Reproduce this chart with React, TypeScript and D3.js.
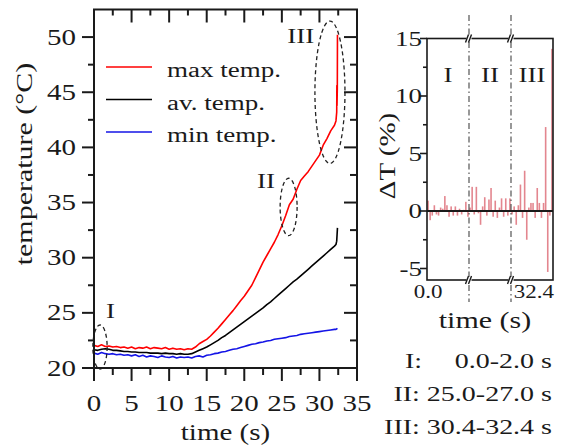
import React from "react";
import * as d3 from "d3";

// ---------- data ----------
const SAMPLE_STEP = 0.5; // s, sampling of the typed curves (t = 0 … 32 s)
const maxTemp = [22.05, 21.95, 22.1, 21.95, 22.0, 21.9, 21.95, 21.85, 21.9, 21.8, 21.9, 21.75, 21.85, 21.8, 21.9, 21.75, 21.85, 21.8, 21.75, 21.85, 21.7, 21.8, 21.7, 21.75, 21.65, 21.75, 21.7,
  21.9, 22.2, 22.4, 22.6, 22.9, 23.25, 23.6, 24.0, 24.4, 24.8,
  25.2, 25.65, 26.1, 26.5, 27.0, 27.5, 28.2, 28.9, 29.6, 30.2,
  30.8, 31.4, 32.1, 32.9, 33.8, 34.8, 35.3, 36.2, 37.0, 37.4,
  37.8, 38.3, 38.8, 39.3, 40.2, 40.8, 41.5, 42.0];
const avTemp = [21.65, 21.6, 21.7, 21.75, 21.7, 21.6, 21.6, 21.55, 21.5, 21.5, 21.45, 21.45, 21.4, 21.4, 21.4, 21.35, 21.35, 21.35, 21.3, 21.35, 21.3, 21.3, 21.25, 21.3, 21.25, 21.25, 21.3,
  21.45, 21.6, 21.75, 21.9, 22.1, 22.3, 22.5, 22.75, 22.95, 23.2,
  23.45, 23.7, 23.95, 24.2, 24.45, 24.7, 24.95, 25.2, 25.45, 25.75,
  26.0, 26.3, 26.6, 26.9, 27.2, 27.5, 27.8, 28.05, 28.35, 28.65,
  28.95, 29.25, 29.55, 29.85, 30.15, 30.45, 30.75, 31.05];
const minTemp = [21.35, 21.25, 21.4, 21.3, 21.25, 21.3, 21.2, 21.25, 21.15, 21.2, 21.1, 21.2, 21.05, 21.15, 21.0, 21.1, 21.05, 20.95, 21.1, 21.0, 20.95, 21.05, 20.9, 21.0, 20.95, 21.0, 20.9,
  21.05, 21.1, 21.0, 21.15, 21.2, 21.3, 21.35, 21.45, 21.5, 21.6,
  21.7, 21.75, 21.85, 21.95, 22.05, 22.15, 22.2, 22.3, 22.35, 22.45,
  22.5, 22.6, 22.65, 22.7, 22.75, 22.85, 22.9, 22.95, 23.05, 23.1,
  23.15, 23.2, 23.25, 23.3, 23.35, 23.4, 23.45, 23.5];
// final samples (t, T) at the end of the record
const maxTailT = [32.2, 32.3, 32.32, 32.34, 32.38, 32.4];
const maxTailV = [42.4, 43.2, 45.6, 43.8, 45.3, 50.2];
const avTailT = [32.2, 32.3, 32.4];
const avTailV = [31.2, 31.5, 32.7];
const minTailT = [32.2, 32.4];
const minTailV = [23.5, 23.6];

const seriesNames = ["max temp.", "av. temp.", "min temp."];
const seriesColors = ["#ff0000", "#000000", "#1414e6"];

// annotation ellipses (data units): centre t, centre T, half-width s, half-height °C
const ellLabels = ["I", "II", "III"];
const ellT = [0.8, 25.9, 31.4];
const ellV = [21.9, 34.6, 45.0];
const ellRt = [0.95, 1.13, 2.0];
const ellRv = [2.0, 2.6, 6.45];
const ellLabelT = [2.2, 22.9, 27.5];
const ellLabelV = [24.5, 36.3, 49.5];

// ΔT bars: three 2-s windows, one bar every 0.1 s
const windowNames = ["I", "II", "III"];
const windowRanges = ["0.0-2.0 s", "25.0-27.0 s", "30.4-32.4 s"];
const BAR_STEP = 0.1;
const WINDOW_LEN = 2.0;
const dT_I = [0.9, -0.8, -0.4, 0.5, -0.3, -0.4, 0.3, 0.2, 1.3, 0.5, -0.5, 0.4, -0.4, 0.4, -0.4, 0.2, -0.3, 0.1, 0.8, -0.5];
const dT_II = [0.3, 2.1, -0.3, 2.1, -0.2, -1.2, 0.4, 1.2, -0.4, 1.0, 2.0, -0.5, 0.9, -0.6, 0.3, 1.1, -0.5, 1.1, -0.4, 1.1];
const dT_III = [-0.3, 0.4, -1.2, 0.5, 2.3, -0.6, 3.5, -2.5, 0.3, 0.7, 0.7, -0.6, 2.0, 0.7, -0.6, 0.7, 7.3, -5.3, -0.4, 14.1];
const dTWindows = [dT_I, dT_II, dT_III];

const leftXTicks = [0, 5, 10, 15, 20, 25, 30, 35];
const leftYTicks = [20, 25, 30, 35, 40, 45, 50];
const rightYTicks = [15, 10, 5, 0, -5];

// ---------- layout ----------
const W = 565, H = 447;
const FONT = "'Liberation Serif', 'Times New Roman', serif";
const VS = 0.78; // vertical squeeze of the lettering
const INK = "#1a1a1a";

const L = { x0: 94, x1: 357, y0: 9.5, y1: 368 };
const R = { x0: 427, x1: 553, y0: 38.5, y1: 280 };

function Txt({ x, y, size, anchor = "middle", rot = false, children }: any) {
  const tr = rot
    ? `translate(${x},${y}) scale(${VS},1) rotate(-90)`
    : `translate(${x},${y}) scale(1,${VS})`;
  return (
    <text transform={tr} fontSize={size} textAnchor={anchor} fontFamily={FONT} fill={INK} style={{ whiteSpace: "pre" }}>
      {children}
    </text>
  );
}

export default function App() {
  const x = d3.scaleLinear().domain([0, 35]).range([L.x0, L.x1]);
  const y = d3.scaleLinear().domain([20, 52.5]).range([L.y1, L.y0]);
  const xr = d3.scaleLinear().domain([0, 3 * WINDOW_LEN]).range([R.x0, R.x1]);
  const yr = d3.scaleLinear().domain([-6, 15]).range([R.y1, R.y0]);

  const mk = (vals: number[], tt: number[], tv: number[]) => {
    const pts: [number, number][] = vals.map((v, i) => [i * SAMPLE_STEP, v]);
    tt.forEach((t, i) => pts.push([t, tv[i]]));
    return pts;
  };
  const series = [
    mk(maxTemp, maxTailT, maxTailV),
    mk(avTemp, avTailT, avTailV),
    mk(minTemp, minTailT, minTailV),
  ];
  const line = d3.line<[number, number]>().x((d) => x(d[0])).y((d) => y(d[1]));

  const xMinor = d3.range(2.5, 35, 5);
  const yMinor = d3.range(22.5, 52.5, 5);
  const yrMinor = [12.5, 7.5, 2.5, -2.5];

  const bars: { t: number; v: number }[] = [];
  dTWindows.forEach((arr, w) =>
    arr.forEach((v, i) => bars.push({ t: w * WINDOW_LEN + (i + 0.5) * BAR_STEP, v }))
  );

  const breaks = [WINDOW_LEN, 2 * WINDOW_LEN];

  return (
    <svg width={W} height={H} style={{ position: "absolute", left: 0, top: 0, background: "#fff" }}>
      <rect width={W} height={H} fill="#fff" />
      <defs>
        <clipPath id="clipL">
          <rect x={L.x0} y={L.y0} width={L.x1 - L.x0} height={L.y1 - L.y0} />
        </clipPath>
      </defs>
      {/* ---------- left panel ---------- */}
      <g clipPath="url(#clipL)">
        {series.map((s, i) => (
          <path key={i} d={line(s) || ""} fill="none" stroke={seriesColors[i]} strokeWidth={1.6} strokeLinejoin="round" />
        ))}
      </g>
      {/* ellipses */}
      {ellLabels.map((lab, i) => (
        <g key={lab}>
          <ellipse cx={x(ellT[i])} cy={y(ellV[i])} rx={x(ellRt[i]) - x(0)} ry={y(0) - y(ellRv[i])}
            fill="none" stroke="#222" strokeWidth={1.3} strokeDasharray="4,3" />
          <Txt x={x(ellLabelT[i])} y={y(ellLabelV[i])} size={27}>{lab}</Txt>
        </g>
      ))}
      {/* frame */}
      <rect x={L.x0} y={L.y0} width={L.x1 - L.x0} height={L.y1 - L.y0} fill="none" stroke={INK} strokeWidth={2} />
      {leftXTicks.map((t) => (
        <g key={"xt" + t} stroke={INK} strokeWidth={2}>
          <line x1={x(t)} x2={x(t)} y1={L.y1} y2={L.y1 + 13} />
          <line x1={x(t)} x2={x(t)} y1={L.y0} y2={L.y0 + 13} />
        </g>
      ))}
      {xMinor.map((t) => (
        <g key={"xm" + t} stroke={INK} strokeWidth={2}>
          <line x1={x(t)} x2={x(t)} y1={L.y1} y2={L.y1 + 7} />
          <line x1={x(t)} x2={x(t)} y1={L.y0} y2={L.y0 + 6} />
        </g>
      ))}
      {leftYTicks.map((v) => (
        <g key={"yt" + v} stroke={INK} strokeWidth={2}>
          <line x1={L.x0 - 12} x2={L.x0} y1={y(v)} y2={y(v)} />
          <line x1={L.x1 - 13} x2={L.x1} y1={y(v)} y2={y(v)} />
        </g>
      ))}
      {yMinor.map((v) => (
        <g key={"ym" + v} stroke={INK} strokeWidth={2}>
          <line x1={L.x0 - 6} x2={L.x0} y1={y(v)} y2={y(v)} />
          <line x1={L.x1 - 7} x2={L.x1} y1={y(v)} y2={y(v)} />
        </g>
      ))}
      {leftXTicks.map((t) => (
        <Txt key={"xl" + t} x={x(t)} y={411} size={29}>{t}</Txt>
      ))}
      {leftYTicks.map((v) => (
        <Txt key={"yl" + v} x={76} y={y(v) + 7.5} size={29} anchor="end">{v}</Txt>
      ))}
      <Txt x={(L.x0 + L.x1) / 2} y={440} size={29}>time (s)</Txt>
      <Txt x={32} y={164} size={30} rot>temperature (°C)</Txt>
      {/* legend */}
      {seriesNames.map((n, i) => (
        <g key={n}>
          <line x1={106} x2={152} y1={67 + i * 32.5} y2={67 + i * 32.5} stroke={seriesColors[i]} strokeWidth={1.6} />
          <Txt x={167} y={77 + i * 32.5} size={27} anchor="start">{n}</Txt>
        </g>
      ))}

      {/* ---------- right panel ---------- */}
      {bars.map((b, i) => (
        <rect key={i} x={xr(b.t) - 0.8} width={1.6} y={Math.min(yr(b.v), yr(0))} height={Math.abs(yr(b.v) - yr(0))}
          fill="#cc2233" fillOpacity={0.55} />
      ))}
      <line x1={R.x0} x2={R.x1} y1={yr(0)} y2={yr(0)} stroke={INK} strokeWidth={1.8} />
      <rect x={R.x0} y={R.y0} width={R.x1 - R.x0} height={R.y1 - R.y0} fill="none" stroke={INK} strokeWidth={1.6} />
      {breaks.map((b) => (
        <g key={"br" + b}>
          <line x1={xr(b)} x2={xr(b)} y1={15} y2={302} stroke="#444" strokeWidth={1.1} strokeDasharray="6,3,1.5,3" />
          {[R.y0, R.y1].map((yy) => (
            <g key={yy} stroke={INK} strokeWidth={1.4}>
              <rect x={xr(b) - 2.5} y={yy - 3} width={5} height={6} fill="#fff" stroke="none" />
              <line x1={xr(b) - 3.5} y1={yy + 4} x2={xr(b) - 0.5} y2={yy - 4} />
              <line x1={xr(b) - 0.5} y1={yy + 4} x2={xr(b) + 2.5} y2={yy - 4} />
            </g>
          ))}
        </g>
      ))}
      {rightYTicks.map((v) => (
        <g key={"ryt" + v}>
          <line x1={R.x0 - 7} x2={R.x0} y1={yr(v)} y2={yr(v)} stroke={INK} strokeWidth={1.6} />
          <Txt x={422} y={yr(v) + 7} size={27} anchor="end">{v}</Txt>
        </g>
      ))}
      {yrMinor.map((v) => (
        <line key={"rym" + v} x1={R.x0 - 4} x2={R.x0} y1={yr(v)} y2={yr(v)} stroke={INK} strokeWidth={1.6} />
      ))}
      {windowNames.map((n, w) => (
        <Txt key={"wn" + n} x={xr(w * WINDOW_LEN + WINDOW_LEN / 2)} y={82} size={27}>{n}</Txt>
      ))}
      <Txt x={R.x0 + 1} y={298} size={23}>0.0</Txt>
      <Txt x={R.x1 + 1} y={298} size={23} anchor="end">32.4</Txt>
      <Txt x={485} y={328} size={30}>time (s)</Txt>
      <Txt x={395} y={156} size={29} rot>ΔT (%)</Txt>
      {/* window legend */}
      <Txt x={405} y={368} size={28} anchor="start">{windowNames[0] + ":"}</Txt>
      <Txt x={552} y={368} size={28} anchor="end">{windowRanges[0]}</Txt>
      {windowNames.slice(1).map((n, k) => (
        <Txt key={"wl" + n} x={552} y={368 + (k + 1) * 33} size={28} anchor="end">{n + ": " + windowRanges[k + 1]}</Txt>
      ))}
    </svg>
  );
}
